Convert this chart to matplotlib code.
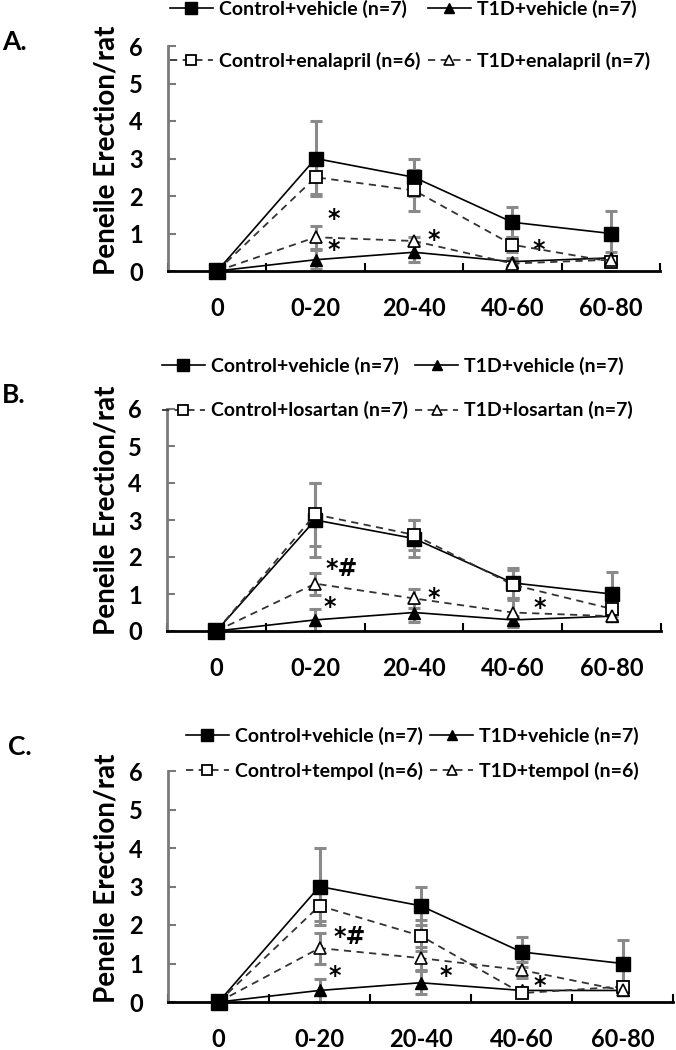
import numpy as np
import matplotlib
matplotlib.use("Agg")
import matplotlib.pyplot as plt

plt.rcParams['font.family'] = ['Lato', 'DejaVu Sans']
plt.rcParams['font.weight'] = 'bold'

# time bins (min)
categories = ["0", "0-20", "20-40", "40-60", "60-80"]

# control + vehicle is the same in every panel
ctrl_veh = [0, 3.0, 2.5, 1.3, 1.0]
ctrl_veh_err = [0, 1.0, 0.5, 0.4, 0.6]

# panel A: enalapril
a_t1d_veh = [0, 0.3, 0.5, 0.25, 0.35]
a_t1d_veh_err = [0, 0.25, 0.25, 0.1, 0.15]
a_ctrl_drug = [0, 2.5, 2.15, 0.7, 0.25]
a_ctrl_drug_err = [0, 0.45, 0.55, 0.2, 0.1]
a_t1d_drug = [0, 0.9, 0.8, 0.2, 0.3]
a_t1d_drug_err = [0, 0.3, 0.12, 0.1, 0.1]

# panel B: losartan
b_t1d_veh = [0, 0.3, 0.5, 0.3, 0.4]
b_t1d_veh_err = [0, 0.3, 0.25, 0.1, 0.1]
b_ctrl_drug = [0, 3.15, 2.6, 1.25, 0.6]
b_ctrl_drug_err = [0, 0.85, 0.4, 0.4, 0.3]
b_t1d_drug = [0, 1.28, 0.88, 0.5, 0.4]
b_t1d_drug_err = [0, 0.3, 0.25, 0.4, 0.1]

# panel C: tempol
c_t1d_veh = [0, 0.3, 0.5, 0.3, 0.3]
c_t1d_veh_err = [0, 0.3, 0.3, 0.1, 0.1]
c_ctrl_drug = [0, 2.5, 1.72, 0.23, 0.4]
c_ctrl_drug_err = [0, 0.4, 0.4, 0.1, 0.15]
c_t1d_drug = [0, 1.4, 1.14, 0.83, 0.3]
c_t1d_drug_err = [0, 0.4, 0.3, 0.2, 0.1]

# significance marks: (x position, y, text)
a_marks = [(1.18, 1.4, "*"), (1.18, 0.55, "*"), (2.2, 0.82, "*"), (3.27, 0.55, "*")]
b_marks = [(1.27, 1.68, "*#"), (1.15, 0.65, "*"), (2.2, 0.88, "*"), (3.27, 0.63, "*")]
c_marks = [(1.3, 1.68, "*#"), (1.15, 0.67, "*"), (2.25, 0.67, "*"), (3.18, 0.42, "*")]

fig = plt.figure(figsize=(6.76, 10.5), dpi=100)
W, H = 676, 1050


def panel(rect, letter, letter_xy, drug, n_drug, n_t1d_drug, t1d_veh, t1d_veh_err,
          ctrl_drug, ctrl_drug_err, t1d_drug, t1d_drug_err, marks, leg_xy, leg_space, ylab_y):
    left, right, y0, y6 = rect
    ax = fig.add_axes([left / W, 1 - y0 / H, (right - left) / W, (y0 - y6) / H])
    x = np.arange(len(categories))
    ecol = '#8a8a8a'
    for vals, errs in [(ctrl_veh, ctrl_veh_err), (ctrl_drug, ctrl_drug_err),
                       (t1d_veh, t1d_veh_err), (t1d_drug, t1d_drug_err)]:
        ax.errorbar(x, vals, yerr=errs, fmt='none', ecolor=ecol, elinewidth=2.2,
                    capsize=4, capthick=2.2, zorder=2, clip_on=False)
    dash = (0, (4, 3))
    h2, = ax.plot(x, ctrl_drug, color='#333333', ls=dash, lw=1.3, marker='s', ms=9,
                  mfc='white', mec='black', mew=1.3, zorder=5, clip_on=False)
    h4, = ax.plot(x, t1d_drug, color='#333333', ls=dash, lw=1.3, marker='^', ms=9,
                  mfc='white', mec='black', mew=1.2, zorder=5, clip_on=False)
    h3, = ax.plot(x, t1d_veh, '-', color='black', lw=1.2, marker='^', ms=9,
                  mfc='black', mec='black', zorder=4, clip_on=False)
    h1, = ax.plot(x, ctrl_veh, '-', color='black', lw=1.2, marker='s', ms=10,
                  mfc='black', mec='black', zorder=4, clip_on=False)
    # first point: filled square sits on top
    ax.plot(x[:1], ctrl_veh[:1], 's', color='black', ms=11, zorder=6, clip_on=False)
    for mx, my, txt in marks:
        ax.text(mx, my, txt, ha='center', va='center', fontsize=17, fontweight='bold',
                family=['DejaVu Sans'])

    ax.set_xlim(-0.5, len(categories) - 0.5)
    ax.set_ylim(0, 6)
    ax.spines['top'].set_visible(False)
    ax.spines['right'].set_visible(False)
    ax.spines['bottom'].set_linewidth(2)
    ax.spines['bottom'].set_color('black')
    ax.spines['left'].set_linewidth(2)
    ax.spines['left'].set_color('#7a7a7a')
    ax.set_xticks(np.arange(-0.5, len(categories), 1))
    ax.set_xticklabels([])
    ax.set_xticks(x, minor=True)
    ax.set_xticklabels(categories, minor=True)
    ax.tick_params(axis='x', which='major', direction='in', length=6, width=1.5, color='black')
    ax.tick_params(axis='x', which='minor', length=0, pad=19, labelsize=17)
    ax.set_yticks(range(7))
    ax.tick_params(axis='y', direction='in', length=6, width=1.5, color='#7a7a7a', pad=18,
                   labelsize=17)

    fig.text(106 / W, 1 - ylab_y / H, "Peneile Erection/rat", rotation=90, ha='center',
             va='center', fontsize=20, fontweight='bold')
    fig.text(letter_xy[0] / W, 1 - letter_xy[1] / H, letter, ha='left', va='center',
             fontsize=19, fontweight='bold')

    labels = ["Control+vehicle (n=7)", "Control+%s (n=%d)" % (drug, n_drug),
              "T1D+vehicle (n=7)", "T1D+%s (n=%d)" % (drug, n_t1d_drug)]
    ax.legend([h1, h2, h3, h4], labels, ncol=2, loc='upper left', frameon=False,
              bbox_to_anchor=(leg_xy[0] / W, 1 - leg_xy[1] / H), bbox_transform=fig.transFigure,
              borderpad=0, borderaxespad=0, fontsize=14, handlelength=2.2, handletextpad=0.3,
              columnspacing=0.4, labelspacing=leg_space, markerscale=0.8)
    return ax


panel((168, 660, 271, 46), "A.", (2, 42), "enalapril", 6, 7, a_t1d_veh, a_t1d_veh_err,
      a_ctrl_drug, a_ctrl_drug_err, a_t1d_drug, a_t1d_drug_err, a_marks, (170, 0), 1.75, 150)
panel((167, 661, 631, 409), "B.", (2, 395), "losartan", 7, 7, b_t1d_veh, b_t1d_veh_err,
      b_ctrl_drug, b_ctrl_drug_err, b_t1d_drug, b_t1d_drug_err, b_marks, (162, 357), 1.35, 510)
panel((168, 673, 1002, 771), "C.", (8, 747), "tempol", 6, 6, c_t1d_veh, c_t1d_veh_err,
      c_ctrl_drug, c_ctrl_drug_err, c_t1d_drug, c_t1d_drug_err, c_marks, (186, 727), 0.85, 878)

fig.savefig("out.png", dpi=100)
